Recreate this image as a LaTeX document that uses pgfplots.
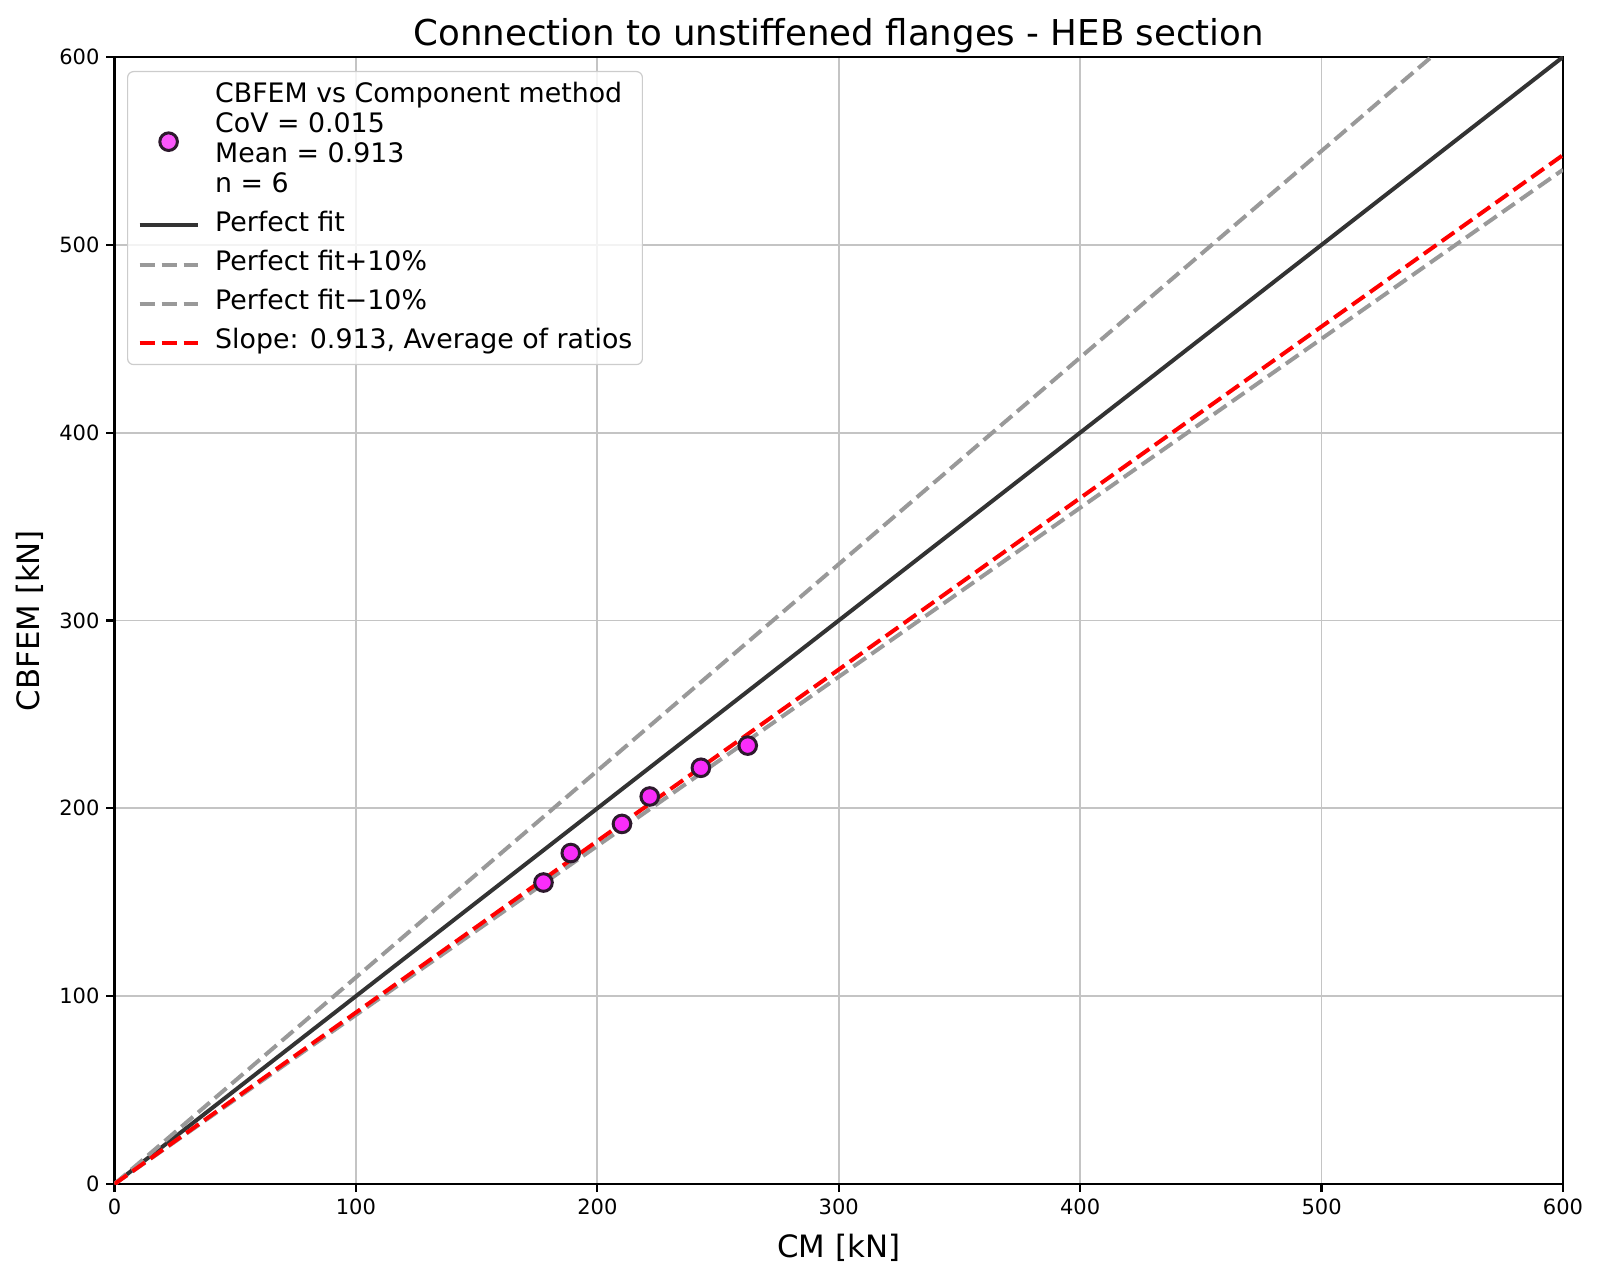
\documentclass[border=0pt]{standalone}
\usepackage{fontspec}
\setmainfont{DejaVu Sans}
\usepackage{pgfplots}
\pgfplotsset{compat=1.18}
\definecolor{mag}{RGB}{250,45,250}
\definecolor{edgec}{RGB}{45,25,45}
\definecolor{perf}{RGB}{51,51,51}
\definecolor{grayd}{RGB}{153,153,153}
\definecolor{gridc}{RGB}{196,196,196}
\definecolor{legc}{RGB}{204,204,204}
\pgfplotsset{
  lineleg/.style={legend image code/.code={\draw[##1] (0pt,0pt) -- (29pt,0pt);}},
  markleg/.style={legend image code/.code={\draw[mark repeat=2,mark phase=2,##1] plot coordinates {(0pt,-1pt) (14.5pt,-1pt) (29pt,-1pt)};}},
}
\begin{document}
\begin{tikzpicture}
\useasboundingbox (-57.25pt,-47.5pt) rectangle (742.75pt,592pt);
\begin{axis}[
  scale only axis, width=724.25pt, height=563.5pt,
  at={(0,0)}, anchor=south west,
  xmin=0, xmax=600, ymin=0, ymax=600,
  xtick={0,100,...,600}, ytick={0,100,...,600},
  grid=major, grid style={color=gridc, line width=0.9pt},
  axis line style={line width=1.1pt, black},
  tick style={line width=1.1pt, black}, major tick length=4pt, tick align=outside,
  xtick pos=left, ytick pos=left,
  ticklabel style={font=\fontsize{10.5}{12.6}\selectfont},
  /pgf/number format/assume math mode=true,
  title={Connection to unstiffened flanges - HEB section},
  title style={font=\fontsize{17.8}{21}\selectfont, at={(axis description cs:0.5,1)}, anchor=base, yshift=-0.5pt},
  xlabel={CM [kN]},
  xlabel style={font=\fontsize{15.4}{18}\selectfont, at={(axis description cs:0.5,0)}, anchor=center, yshift=-32pt},
  ylabel={CBFEM [kN]},
  ylabel style={font=\fontsize{15.4}{18}\selectfont, at={(axis description cs:-0.05834,0.5)}, anchor=center},
  legend cell align=left,
  legend style={at={(axis description cs:0.00863,0.98758)}, anchor=north west,
    draw=legc, line width=0.6pt, rounded corners=3pt, fill=white, fill opacity=0.8, text opacity=1, draw opacity=1,
    font=\fontsize{13.4}{15}\selectfont, inner xsep=5pt, inner ysep=3.3pt,
    row sep=4.6pt, column sep=7.8pt, nodes={inner sep=0pt, text depth=, text height=}},
]
\addplot[only marks, mark=*, mark size=4.4pt, mark options={fill=mag, draw=edgec, line width=1.5pt}, markleg]
  coordinates {(177.7,160.5) (189.0,176.2) (210.2,191.7) (221.7,206.3) (242.9,221.6) (262.3,233.4)};
\addlegendentry{\begin{tabular}{@{}l@{}}\rule{0pt}{12pt}CBFEM vs Component method\\CoV = 0.015\\Mean = 0.913\\n = 6\end{tabular}}
\addplot[perf, line width=2pt, lineleg]
  coordinates {(0,0) (600,600)};
\addlegendentry{\strut Perfect fit}
\addplot[grayd, line width=2pt, dash pattern=on 7.7pt off 3.3pt, lineleg]
  coordinates {(0,0) (545.4545,600)};
\addlegendentry{\strut Perfect fit+10\%}
\addplot[grayd, line width=2pt, dash pattern=on 7.7pt off 3.3pt, lineleg]
  coordinates {(0,0) (600,540)};
\addlegendentry{\strut Perfect fit−10\%}
\addplot[red, line width=2pt, dash pattern=on 7.7pt off 3.3pt, lineleg]
  coordinates {(0,0) (600,547.8)};
\addlegendentry{\strut Slope: 0.913, Average of ratios}
\end{axis}
\end{tikzpicture}
\end{document}
